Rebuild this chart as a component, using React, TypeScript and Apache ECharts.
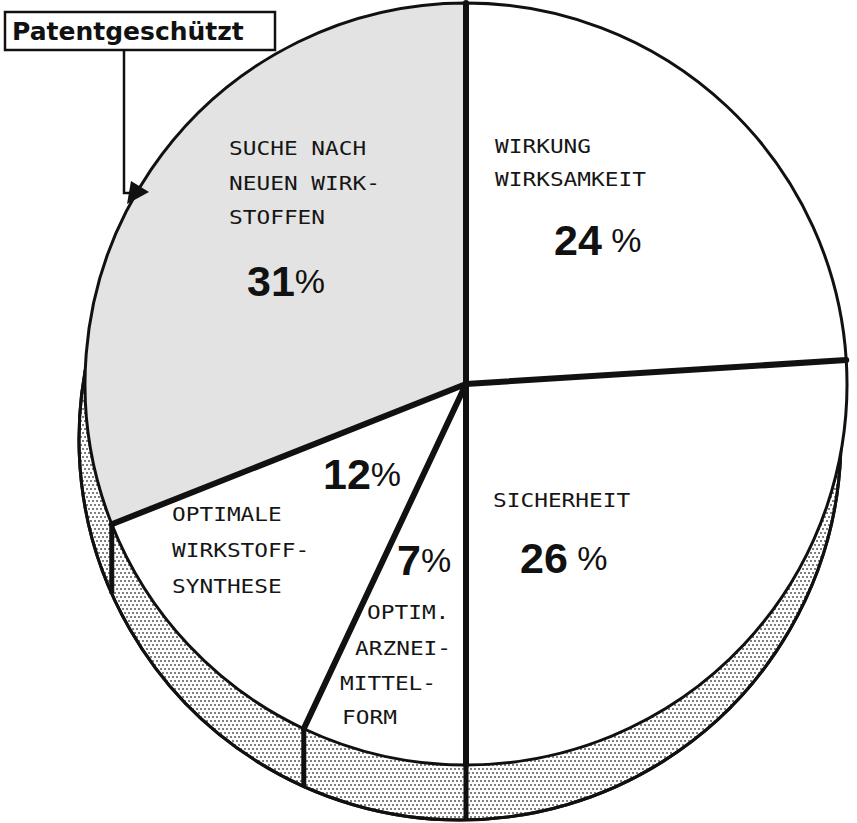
import React, { useEffect, useRef } from 'react';
import * as echarts from 'echarts';

// ---------- data ----------
const sliceNames = [
  'Wirkung, Wirksamkeit',
  'Sicherheit',
  'Optim. Arzneimittelform',
  'Optimale Wirkstoffsynthese',
  'Suche nach neuen Wirkstoffen',
];
const shares = [24, 26, 7, 12, 31];
const labelLines = [
  ['WIRKUNG', 'WIRKSAMKEIT'],
  ['SICHERHEIT'],
  ['OPTIM.', 'ARZNEI-', 'MITTEL-', 'FORM'],
  ['OPTIMALE', 'WIRKSTOFF-', 'SYNTHESE'],
  ['SUCHE NACH', 'NEUEN WIRK-', 'STOFFEN'],
];
const patentLabel = 'Patentgeschützt';
const patentedSlice = 4;

// ---------- layout ----------
const W = 857;
const H = 823;
const CX = 466;
const CY = 384;
const R = 381;
const DEPTH = 55;
const SHIFT_X = -6;
const labelPos = [
  [[495, 146], [495, 179]],
  [[493, 500]],
  [[367, 612], [355, 648], [340, 683], [342, 717]],
  [[172, 514], [172, 550], [172, 586]],
  [[229, 148], [229, 183], [229, 217]],
];
const pctPos = [[554, 240], [520, 558], [397, 560], [323, 474], [247, 281]];
const pctGap = [true, true, false, false, false];

export default function App() {
  const ref = useRef<HTMLDivElement>(null);
  useEffect(() => {
    const chart = echarts.init(ref.current!, null, { renderer: 'svg' });
    const total = shares.reduce((a, b) => a + b, 0);
    const graphics: any[] = [];
    const bx = CX + SHIFT_X;
    const by = CY + DEPTH;
    let cum = 0;
    shares.forEach((v) => {
      cum += v;
      const th = (cum / total) * 2 * Math.PI;
      const x = CX + R * Math.sin(th);
      const y = CY - R * Math.cos(th);
      // radial divider on the top face
      graphics.push({
        type: 'line', z: 5, silent: true,
        shape: { x1: CX, y1: CY, x2: x, y2: y },
        style: { stroke: '#111', lineWidth: 6, lineCap: 'round' },
      });
      // vertical edge on the side band
      const yb = by + Math.sqrt(Math.max(0, R * R - (x - bx) * (x - bx)));
      if (y > CY + DEPTH / 2 + 20 && yb > y) {
        graphics.push({
          type: 'line', z: 5, silent: true,
          shape: { x1: x, y1: y, x2: x, y2: yb },
          style: { stroke: '#111', lineWidth: 5 },
        });
      }
    });

    labelLines.forEach((lines, i) => {
      lines.forEach((t, j) => {
        const [x, y] = labelPos[i][j];
        graphics.push({
          type: 'text', x, y, scaleX: 1.14, z: 10, silent: true,
          style: {
            text: t, fontSize: 20, fontFamily: '"DejaVu Sans Mono", monospace',
            fill: '#161616', align: 'left', verticalAlign: 'middle',
          },
        });
      });
      const [px, py] = pctPos[i];
      graphics.push({
        type: 'text', x: px, y: py, z: 10, silent: true,
        style: {
          text: `{n|${shares[i]}}{p|${pctGap[i] ? ' ' : ''}%}`,
          align: 'left', verticalAlign: 'middle',
          rich: {
            n: { fontSize: 43, fontWeight: 'bold', fontFamily: '"Liberation Sans", Arial, sans-serif', fill: '#111' },
            p: { fontSize: 34, fontWeight: 'normal', fontFamily: '"Liberation Sans", Arial, sans-serif', fill: '#111' },
          },
        },
      });
    });

    // "Patentgeschützt" box and arrow
    graphics.push({
      type: 'rect', z: 10, silent: true,
      shape: { x: 5, y: 12, width: 270, height: 38 },
      style: { fill: '#fff', stroke: '#111', lineWidth: 2.5 },
    });
    graphics.push({
      type: 'text', x: 12, y: 31, z: 11, silent: true,
      style: {
        text: patentLabel, fontSize: 25, fontWeight: 'bold',
        fontFamily: '"DejaVu Sans", sans-serif', fill: '#111',
        align: 'left', verticalAlign: 'middle',
      },
    });
    graphics.push({
      type: 'polyline', z: 10, silent: true,
      shape: { points: [[124, 50], [124, 193], [133, 193]] },
      style: { stroke: '#111', lineWidth: 2.5, fill: null },
    });
    graphics.push({
      type: 'polygon', z: 10, silent: true,
      shape: { points: [[131, 181], [149, 192], [127, 204]] },
      style: { fill: '#111' },
    });

    chart.setOption({
      animation: false,
      backgroundColor: '#fff',
      series: [
        {
          type: 'pie', z: 1, silent: true,
          center: [bx, by], radius: R, startAngle: 90, clockwise: true,
          label: { show: false }, labelLine: { show: false },
          emphasis: { disabled: true },
          data: [{ value: 1, name: 'Seite' }],
          itemStyle: {
            color: '#fff', borderColor: '#111', borderWidth: 3,
            decal: {
              symbol: 'circle', symbolSize: 0.8, color: '#3a3a3a',
              dashArrayX: [[2, 2], [0, 2, 2, 0]], dashArrayY: [2, 2], rotation: 0,
            },
          },
        },
        {
          type: 'pie', z: 2, silent: true,
          center: [CX, CY], radius: R, startAngle: 90, clockwise: true,
          label: { show: false }, labelLine: { show: false },
          emphasis: { disabled: true },
          data: shares.map((v, i) => ({
            value: v, name: sliceNames[i],
            itemStyle: { color: i === patentedSlice ? '#e3e3e3' : '#fff' },
          })),
          itemStyle: { borderColor: '#111', borderWidth: 3 },
        },
      ],
      graphic: { elements: graphics },
    });
    return () => chart.dispose();
  }, []);
  return (
    <div
      ref={ref}
      style={{ position: 'fixed', left: 0, top: 0, width: W, height: H, background: '#fff' }}
    />
  );
}
